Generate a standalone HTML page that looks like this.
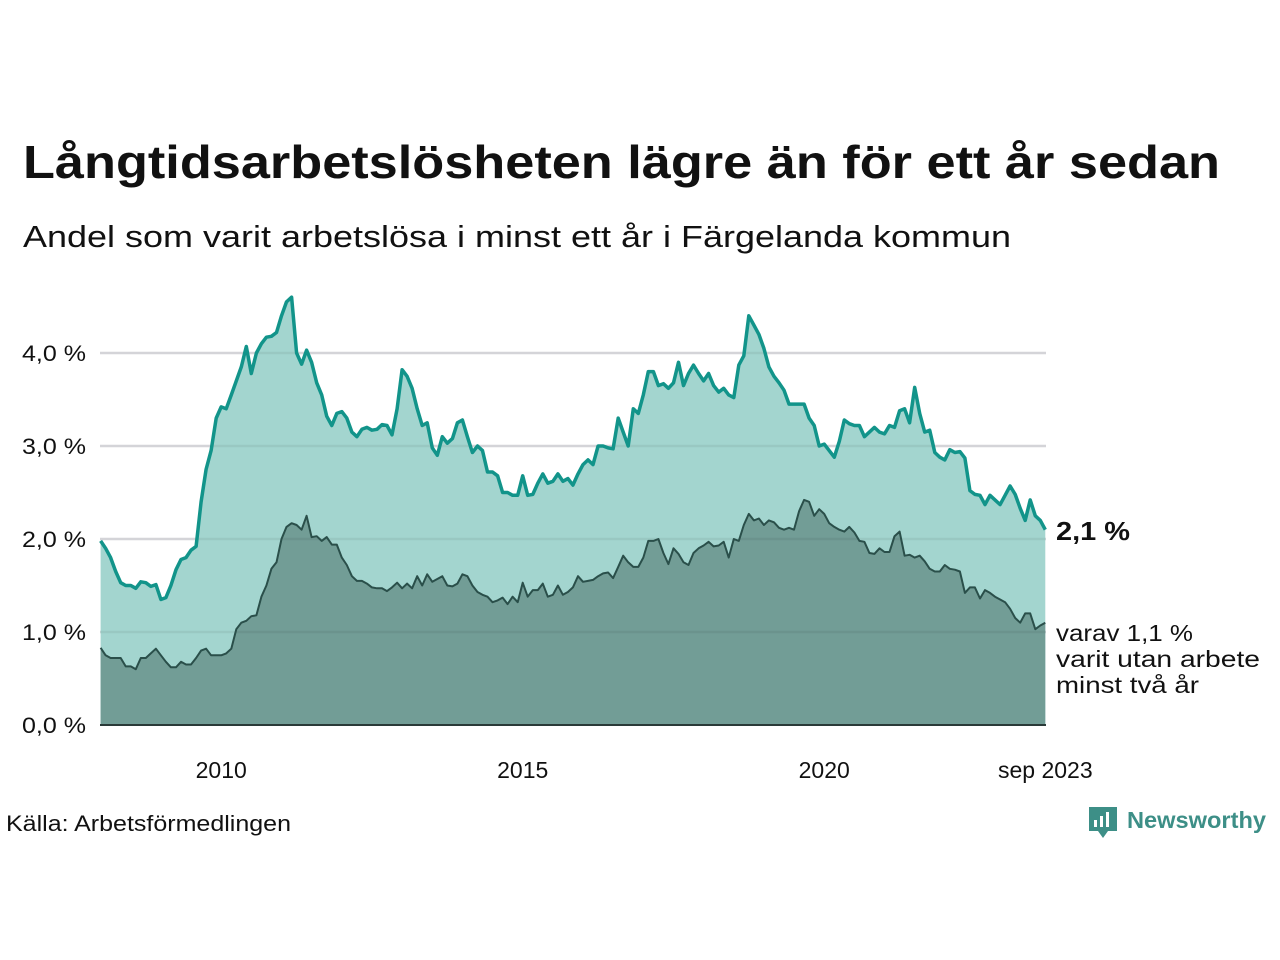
<!DOCTYPE html>
<html><head><meta charset="utf-8"><style>
body{margin:0;background:#fff}
svg{display:block;font-family:"Liberation Sans","DejaVu Sans",sans-serif}
</style></head><body>
<svg width="1280" height="960" viewBox="0 0 1280 960">
<text x="23" y="178" font-size="46" font-weight="bold" fill="#111" textLength="1197" lengthAdjust="spacingAndGlyphs">Långtidsarbetslösheten lägre än för ett år sedan</text>
<text x="23" y="247" font-size="31" fill="#111" textLength="988" lengthAdjust="spacingAndGlyphs">Andel som varit arbetslösa i minst ett år i Färgelanda kommun</text>
<g id="grid"></g>
<g id="plot"></g>
<g id="axes"></g>
<text x="1056" y="540" font-size="26" font-weight="bold" fill="#111" textLength="74" lengthAdjust="spacingAndGlyphs">2,1 %</text>
<text font-size="23" fill="#111"><tspan x="1056" y="641" textLength="137" lengthAdjust="spacingAndGlyphs">varav 1,1 %</tspan><tspan x="1056" y="667" textLength="204" lengthAdjust="spacingAndGlyphs">varit utan arbete</tspan><tspan x="1056" y="693" textLength="143" lengthAdjust="spacingAndGlyphs">minst två år</tspan></text>
<text x="6" y="831" font-size="22" fill="#111" textLength="285" lengthAdjust="spacingAndGlyphs">Källa: Arbetsförmedlingen</text>
<g>
<path d="M1089 807h28v24h-9l-5 7-5-7h-9z" fill="#3d8f87"/>
<rect x="1094" y="820" width="3" height="7" fill="#fff"/><rect x="1100" y="816" width="3" height="11" fill="#fff"/><rect x="1106" y="812" width="3" height="15" fill="#fff"/>
<text x="1127" y="828" font-size="23" font-weight="bold" fill="#3d8f87" textLength="139" lengthAdjust="spacingAndGlyphs">Newsworthy</text>
</g>
</svg>
<script>
const total=[1.98,1.9,1.8,1.65,1.53,1.5,1.5,1.47,1.54,1.53,1.49,1.51,
1.35,1.37,1.5,1.67,1.78,1.8,1.88,1.92,2.4,2.75,2.95,3.3,
3.42,3.4,3.55,3.7,3.85,4.07,3.78,4.0,4.1,4.17,4.18,4.22,
4.4,4.55,4.6,4.0,3.88,4.03,3.9,3.68,3.55,3.32,3.22,3.35,
3.37,3.3,3.15,3.1,3.18,3.2,3.17,3.18,3.23,3.22,3.12,3.4,
3.82,3.75,3.62,3.4,3.22,3.25,2.98,2.9,3.1,3.03,3.08,3.25,
3.28,3.1,2.93,3.0,2.95,2.72,2.72,2.68,2.5,2.5,2.47,2.47,
2.68,2.47,2.48,2.6,2.7,2.6,2.62,2.7,2.62,2.65,2.58,2.7,
2.8,2.85,2.8,3.0,3.0,2.98,2.97,3.3,3.15,3.0,3.4,3.35,
3.55,3.8,3.8,3.65,3.67,3.62,3.68,3.9,3.65,3.78,3.87,3.78,
3.7,3.78,3.65,3.58,3.62,3.55,3.52,3.87,3.97,4.4,4.3,4.2,
4.05,3.85,3.75,3.68,3.6,3.45,3.45,3.45,3.45,3.3,3.22,3.0,
3.02,2.95,2.88,3.05,3.28,3.24,3.22,3.22,3.1,3.15,3.2,3.15,
3.13,3.22,3.2,3.38,3.4,3.25,3.63,3.35,3.15,3.17,2.93,2.88,
2.85,2.96,2.93,2.94,2.87,2.52,2.48,2.47,2.37,2.47,2.42,2.37,
2.47,2.57,2.48,2.33,2.2,2.42,2.25,2.2,2.1];
const longterm=[0.83,0.75,0.72,0.72,0.72,0.63,0.63,0.6,0.72,0.72,0.77,0.82,
0.75,0.68,0.62,0.62,0.68,0.65,0.65,0.72,0.8,0.82,0.75,0.75,
0.75,0.77,0.82,1.03,1.1,1.12,1.17,1.18,1.38,1.5,1.68,1.75,
2.0,2.13,2.17,2.15,2.1,2.25,2.02,2.03,1.98,2.02,1.94,1.94,
1.8,1.72,1.6,1.55,1.55,1.52,1.48,1.47,1.47,1.44,1.48,1.53,
1.47,1.52,1.47,1.6,1.5,1.62,1.54,1.57,1.6,1.5,1.49,1.52,
1.62,1.6,1.5,1.43,1.4,1.38,1.32,1.34,1.37,1.3,1.38,1.32,
1.53,1.38,1.45,1.45,1.52,1.38,1.4,1.5,1.4,1.43,1.48,1.6,
1.54,1.55,1.56,1.6,1.63,1.64,1.58,1.7,1.82,1.75,1.7,1.7,
1.8,1.98,1.98,2.0,1.85,1.73,1.9,1.84,1.75,1.72,1.85,1.9,
1.93,1.97,1.92,1.93,1.97,1.8,2.0,1.98,2.15,2.27,2.2,2.22,
2.15,2.2,2.18,2.12,2.1,2.12,2.1,2.3,2.42,2.4,2.25,2.32,
2.27,2.17,2.13,2.1,2.08,2.13,2.07,1.98,1.97,1.85,1.84,1.9,
1.86,1.86,2.03,2.08,1.82,1.83,1.8,1.82,1.76,1.68,1.65,1.65,
1.72,1.68,1.67,1.65,1.42,1.48,1.48,1.36,1.45,1.42,1.38,1.35,
1.32,1.25,1.15,1.1,1.2,1.2,1.03,1.07,1.1];
const yTicks=[0,1,2,3,4];
const yTickLabels=["0,0 %","1,0 %","2,0 %","3,0 %","4,0 %"];
const xTicks=[2010,2015,2020,2023.667];
const xTickLabels=["2010","2015","2020","sep 2023"];
const startYear=2008;
const NS="http://www.w3.org/2000/svg";
const X0=100.6,PXY=60.3,Y0=725,PXV=93;
function xm(i){return X0+i*PXY/12;}
function xy(yr){return X0+(yr-startYear)*PXY;}
function yv(v){return Y0-v*PXV;}
function mk(tag,attrs,parent){const e=document.createElementNS(NS,tag);for(const k in attrs)e.setAttribute(k,attrs[k]);parent.appendChild(e);return e;}
const grid=document.getElementById('grid'),plot=document.getElementById('plot'),axes=document.getElementById('axes');
yTicks.forEach((t,i)=>{
  if(t>0){const l=mk('line',{x1:100,x2:1046,y1:yv(t),y2:yv(t),stroke:'#e2e2e6','stroke-width':2.5},grid);
  
  }
  const tx=mk('text',{x:86,y:yv(t)+8,'font-size':22,fill:'#111','text-anchor':'end',textLength:64,lengthAdjust:'spacingAndGlyphs'},axes);
  tx.textContent=yTickLabels[i];
  
  
});
xTicks.forEach((t,i)=>{
  const tx=mk('text',{x:xy(t),y:778,'font-size':23,fill:'#111','text-anchor':'middle'},axes);
  tx.textContent=xTickLabels[i];
  
  
});
function pts(arr){return arr.map((v,i)=>xm(i).toFixed(1)+','+yv(v).toFixed(1)).join(' ');}
function area(arr,fill,name){const p=mk('polygon',{points:xm(0)+','+Y0+' '+pts(arr)+' '+xm(arr.length-1)+','+Y0,fill:fill},plot);
  
  }
area(total,'#a3d5cf','total-area');
area(longterm,'#729d96','long-area');
yTicks.forEach(t=>{if(t>0){const l=mk('line',{x1:100,x2:1046,y1:yv(t),y2:yv(t),stroke:'rgba(0,0,0,0.06)','stroke-width':2.5},plot);
  
  }});
const l1=mk('polyline',{points:pts(total),fill:'none',stroke:'#12948a','stroke-width':3.5,'stroke-linejoin':'round'},plot);


const l2=mk('polyline',{points:pts(longterm),fill:'none',stroke:'#2a4f4a','stroke-width':2,'stroke-linejoin':'round'},plot);


const ax=mk('line',{x1:100,x2:1046,y1:Y0,y2:Y0,stroke:'#2a3a38','stroke-width':2},axes);


</script>
</body></html>
